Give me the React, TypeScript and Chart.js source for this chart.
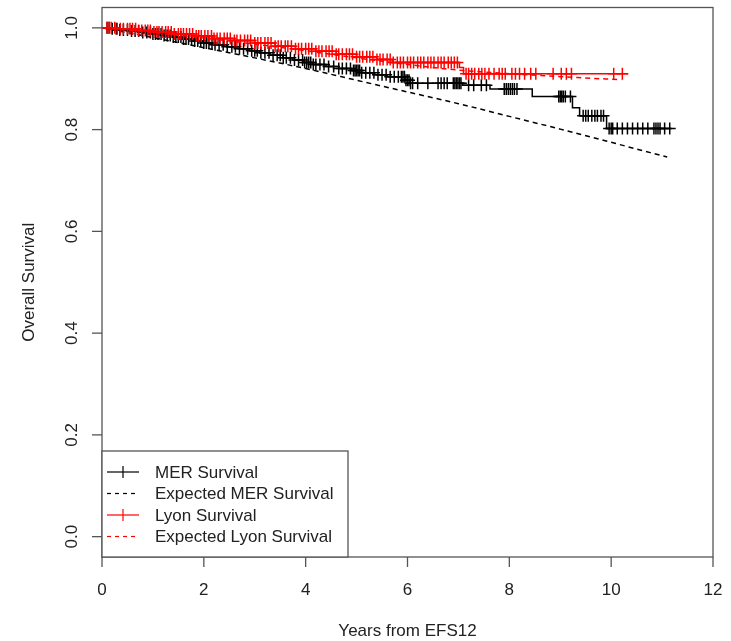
import { useEffect, useRef } from "react";
import { Chart, registerables } from "chart.js";

Chart.register(...registerables);

// Axis ticks
const X_TICKS = [0, 2, 4, 6, 8, 10, 12];
const Y_TICKS = [0, 0.2, 0.4, 0.6, 0.8, 1.0];

// MER Kaplan-Meier: event times (years) and survival after each event
const MER_EVENT_TIMES = [
  0.15, 0.35, 0.55, 0.8, 1.0, 1.2, 1.4, 1.6, 1.8, 2.0, 2.2, 2.45, 2.7, 2.9, 3.1,
  3.3, 3.55, 3.75, 3.95, 4.15, 4.4, 4.65, 4.9, 5.1, 5.35, 5.6, 5.95, 6.05, 7.08,
  7.62, 8.45, 9.24, 9.38, 9.91,
];
const MER_EVENT_SURV = [
  0.998, 0.996, 0.994, 0.991, 0.988, 0.985, 0.982, 0.978, 0.974, 0.97, 0.967,
  0.963, 0.959, 0.955, 0.951, 0.946, 0.941, 0.937, 0.932, 0.928, 0.924, 0.92,
  0.916, 0.912, 0.908, 0.904, 0.897, 0.891, 0.887, 0.88, 0.865, 0.843, 0.827,
  0.802,
];
const MER_LAST_FOLLOWUP = 11.19;
const MER_CENSOR_TIMES = [
  0.1, 0.14, 0.2, 0.28, 0.35, 0.42, 0.5, 0.58, 0.65, 0.72, 0.8, 0.88, 0.95, 1.0,
  1.05, 1.1, 1.16, 1.22, 1.28, 1.34, 1.4, 1.45, 1.5, 1.55, 1.6, 1.65, 1.7, 1.76,
  1.82, 1.88, 1.94, 2.0, 2.05, 2.1, 2.16, 2.22, 2.3, 2.38, 2.46, 2.55, 2.62, 2.7,
  2.78, 2.86, 2.94, 3.0, 3.05, 3.12, 3.2, 3.28, 3.36, 3.44, 3.5, 3.56, 3.62, 3.7,
  3.78, 3.86, 3.94, 3.98, 4.02, 4.06, 4.1, 4.15, 4.2, 4.28, 4.36, 4.45, 4.55,
  4.65, 4.72, 4.8, 4.88, 4.94, 4.97, 5.0, 5.03, 5.06, 5.1, 5.18, 5.26, 5.34,
  5.42, 5.5, 5.58, 5.66, 5.74, 5.82, 5.88, 5.91, 5.94, 5.97, 6.0, 6.03, 6.06,
  6.1, 6.2, 6.4, 6.6, 6.66, 6.72, 6.78, 6.9, 6.93, 6.96, 6.99, 7.02, 7.05, 7.2,
  7.3, 7.45, 7.55, 7.9, 7.94, 7.98, 8.02, 8.06, 8.1, 8.15, 8.97, 9.0, 9.03, 9.06,
  9.1, 9.2, 9.45, 9.5, 9.55, 9.62, 9.68, 9.73, 9.8, 9.85, 9.96, 10.0, 10.03,
  10.12, 10.22, 10.32, 10.42, 10.52, 10.62, 10.72, 10.84, 10.88, 10.92, 10.96,
  11.05, 11.15,
];

// Lyon Kaplan-Meier
const LYON_EVENT_TIMES = [
  0.3, 0.7, 1.0, 1.4, 1.8, 2.2, 2.6, 3.0, 3.4, 3.8, 4.2, 4.6, 5.0, 5.4, 5.7,
  7.02, 7.1,
];
const LYON_EVENT_SURV = [
  0.998, 0.995, 0.992, 0.988, 0.984, 0.979, 0.975, 0.97, 0.964, 0.959, 0.954,
  0.948, 0.943, 0.938, 0.932, 0.922, 0.91,
];
const LYON_LAST_FOLLOWUP = 10.33;
const LYON_CENSOR_TIMES = [
  0.1, 0.14, 0.18, 0.25, 0.3, 0.36, 0.42, 0.5, 0.55, 0.6, 0.66, 0.72, 0.78, 0.85,
  0.9, 0.95, 1.02, 1.08, 1.12, 1.18, 1.25, 1.3, 1.36, 1.42, 1.5, 1.55, 1.6, 1.66,
  1.72, 1.78, 1.85, 1.9, 1.95, 2.02, 2.08, 2.15, 2.2, 2.26, 2.32, 2.4, 2.46, 2.52,
  2.6, 2.65, 2.72, 2.8, 2.86, 2.92, 3.0, 3.06, 3.12, 3.2, 3.26, 3.32, 3.4, 3.46,
  3.52, 3.6, 3.65, 3.72, 3.8, 3.86, 3.92, 4.0, 4.06, 4.12, 4.2, 4.26, 4.32, 4.4,
  4.46, 4.52, 4.6, 4.65, 4.72, 4.8, 4.86, 4.92, 5.0, 5.06, 5.12, 5.2, 5.26, 5.32,
  5.4, 5.46, 5.52, 5.6, 5.66, 5.72, 5.8, 5.86, 5.92, 6.0, 6.06, 6.12, 6.2, 6.26,
  6.32, 6.4, 6.46, 6.52, 6.6, 6.66, 6.72, 6.8, 6.86, 6.92, 6.98, 7.15, 7.2, 7.26,
  7.32, 7.4, 7.46, 7.52, 7.6, 7.7, 7.8, 7.86, 7.92, 8.05, 8.12, 8.2, 8.3, 8.42,
  8.52, 8.86, 9.02, 9.12, 9.22, 10.05, 10.22,
];

// Expected survival curves
const EXP_MER_TIMES = [0, 1, 2, 3, 4, 5, 6, 7, 8, 9, 10, 11.1];
const EXP_MER_SURV = [
  1.0, 0.981, 0.961, 0.941, 0.92, 0.897, 0.874, 0.851, 0.826, 0.801, 0.775,
  0.746,
];
const EXP_LYON_TIMES = [0, 1, 2, 3, 4, 5, 6, 7, 8, 9, 10, 10.2];
const EXP_LYON_SURV = [
  1.0, 0.991, 0.98, 0.968, 0.955, 0.941, 0.928, 0.917, 0.91, 0.904, 0.899,
  0.898,
];

const LEGEND_LABELS = [
  "MER Survival",
  "Expected MER Survival",
  "Lyon Survival",
  "Expected Lyon Survival",
];

const X_TITLE = "Years from EFS12";
const Y_TITLE = "Overall Survival";

const BLACK = "#000000";
const RED = "#ff0000";
const FRAME = "#555555";
const INK = "#222222";
const FONT = '17px "Liberation Sans", Arial, sans-serif';
const DASH = [5, 4];

type Pt = { x: number; y: number };

function stepCurve(times: number[], surv: number[], last: number): Pt[] {
  const pts: Pt[] = [{ x: 0, y: 1 }];
  times.forEach((t, i) => pts.push({ x: t, y: surv[i] }));
  pts.push({ x: last, y: surv[surv.length - 1] });
  return pts;
}

function survivalAt(times: number[], surv: number[], t: number): number {
  let s = 1;
  for (let i = 0; i < times.length; i++) {
    if (times[i] <= t) s = surv[i];
  }
  return s;
}

function censorPoints(censor: number[], times: number[], surv: number[]): Pt[] {
  return censor.map((t) => ({ x: t, y: survivalAt(times, surv, t) }));
}

function pairs(times: number[], surv: number[]): Pt[] {
  return times.map((t, i) => ({ x: t, y: surv[i] }));
}

// Frame, axes, titles and legend in the style of base R graphics
const baseFrame = {
  id: "baseFrame",
  afterDatasetsDraw(chart: any) {
    const { ctx, chartArea: a, scales } = chart;
    const xs = scales.x;
    const ys = scales.y;
    ctx.save();

    ctx.strokeStyle = FRAME;
    ctx.lineWidth = 1.3;
    ctx.strokeRect(a.left, a.top, a.right - a.left, a.bottom - a.top);

    ctx.fillStyle = INK;
    ctx.font = FONT;
    ctx.textAlign = "center";
    ctx.textBaseline = "middle";

    X_TICKS.forEach((v) => {
      const px = xs.getPixelForValue(v);
      ctx.beginPath();
      ctx.moveTo(px, a.bottom);
      ctx.lineTo(px, a.bottom + 10);
      ctx.stroke();
      ctx.fillText(String(v), px, a.bottom + 33);
    });

    Y_TICKS.forEach((v) => {
      const py = ys.getPixelForValue(v);
      ctx.beginPath();
      ctx.moveTo(a.left - 10, py);
      ctx.lineTo(a.left, py);
      ctx.stroke();
      ctx.save();
      ctx.translate(a.left - 30, py);
      ctx.rotate(-Math.PI / 2);
      ctx.fillText(v.toFixed(1), 0, 0);
      ctx.restore();
    });

    ctx.fillText(X_TITLE, (a.left + a.right) / 2, a.bottom + 74);
    ctx.save();
    ctx.translate(a.left - 73, (a.top + a.bottom) / 2);
    ctx.rotate(-Math.PI / 2);
    ctx.fillText(Y_TITLE, 0, 0);
    ctx.restore();

    // legend, bottom-left corner
    const boxW = 246;
    const boxH = 106;
    const bx = a.left;
    const by = a.bottom - boxH;
    ctx.fillStyle = "#ffffff";
    ctx.fillRect(bx, by, boxW, boxH);
    ctx.strokeStyle = FRAME;
    ctx.lineWidth = 1.3;
    ctx.strokeRect(bx, by, boxW, boxH);

    const styles = [
      { color: BLACK, dashed: false },
      { color: BLACK, dashed: true },
      { color: RED, dashed: false },
      { color: RED, dashed: true },
    ];
    LEGEND_LABELS.forEach((label, i) => {
      const y = by + 21 + i * 21.5;
      const st = styles[i];
      ctx.strokeStyle = st.color;
      ctx.lineWidth = 1.2;
      ctx.setLineDash(st.dashed ? [4, 4] : []);
      ctx.beginPath();
      ctx.moveTo(bx + 5, y);
      ctx.lineTo(bx + 37, y);
      ctx.stroke();
      ctx.setLineDash([]);
      if (!st.dashed) {
        ctx.beginPath();
        ctx.moveTo(bx + 21, y - 6);
        ctx.lineTo(bx + 21, y + 6);
        ctx.stroke();
      }
      ctx.fillStyle = INK;
      ctx.textAlign = "left";
      ctx.fillText(label, bx + 53, y + 1);
    });

    ctx.restore();
  },
};

export default function App() {
  const canvasRef = useRef<HTMLCanvasElement | null>(null);

  useEffect(() => {
    const canvas = canvasRef.current;
    if (!canvas) return;

    const markStyle = {
      type: "scatter" as const,
      pointStyle: "cross",
      pointRadius: 6,
      pointBorderWidth: 1.5,
      showLine: false,
    };

    const chart = new Chart(canvas, {
      type: "line",
      data: {
        datasets: [
          {
            label: "Expected Lyon Survival",
            data: pairs(EXP_LYON_TIMES, EXP_LYON_SURV),
            borderColor: RED,
            borderWidth: 1.5,
            borderDash: DASH,
            pointRadius: 0,
            cubicInterpolationMode: "monotone",
            order: 0,
          },
          {
            ...markStyle,
            label: "Lyon censored",
            data: censorPoints(LYON_CENSOR_TIMES, LYON_EVENT_TIMES, LYON_EVENT_SURV),
            borderColor: RED,
            backgroundColor: RED,
            order: 1,
          },
          {
            label: "Lyon Survival",
            data: stepCurve(LYON_EVENT_TIMES, LYON_EVENT_SURV, LYON_LAST_FOLLOWUP),
            borderColor: RED,
            borderWidth: 1.5,
            stepped: "before",
            pointRadius: 0,
            order: 2,
          },
          {
            label: "Expected MER Survival",
            data: pairs(EXP_MER_TIMES, EXP_MER_SURV),
            borderColor: BLACK,
            borderWidth: 1.5,
            borderDash: DASH,
            pointRadius: 0,
            cubicInterpolationMode: "monotone",
            order: 3,
          },
          {
            ...markStyle,
            label: "MER censored",
            data: censorPoints(MER_CENSOR_TIMES, MER_EVENT_TIMES, MER_EVENT_SURV),
            borderColor: BLACK,
            backgroundColor: BLACK,
            order: 4,
          },
          {
            label: "MER Survival",
            data: stepCurve(MER_EVENT_TIMES, MER_EVENT_SURV, MER_LAST_FOLLOWUP),
            borderColor: BLACK,
            borderWidth: 1.5,
            stepped: "before",
            pointRadius: 0,
            order: 5,
          },
        ] as any,
      },
      options: {
        animation: false,
        responsive: false,
        devicePixelRatio: 1,
        layout: { padding: { left: 102, right: 18, top: 7, bottom: 84 } },
        scales: {
          x: { type: "linear", min: 0, max: 12, display: false },
          y: { type: "linear", min: -0.04, max: 1.04, display: false },
        },
        plugins: {
          legend: { display: false },
          tooltip: { enabled: false },
        },
        elements: { line: { fill: false } },
      },
      plugins: [baseFrame],
    });

    return () => chart.destroy();
  }, []);

  return (
    <div
      style={{
        position: "fixed",
        left: 0,
        top: 0,
        width: 731,
        height: 641,
        background: "#ffffff",
      }}
    >
      <canvas ref={canvasRef} width={731} height={641} />
    </div>
  );
}
